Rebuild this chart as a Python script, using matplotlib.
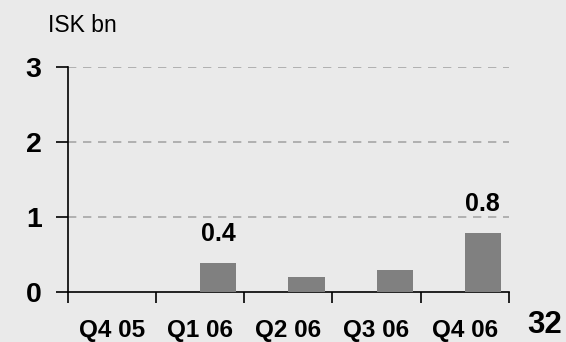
import numpy as np
import matplotlib.pyplot as plt

# Quarterly values, ISK bn
quarters = ["Q4 05", "Q1 06", "Q2 06", "Q3 06", "Q4 06"]
values = [0.0, 0.39, 0.2, 0.29, 0.79]
bar_labels = ["", "0.4", "", "", "0.8"]

bg = "#EAEAEA"
font = ["Liberation Sans", "DejaVu Sans"]

fig = plt.figure(figsize=(5.66, 3.42), dpi=100, facecolor=bg)
ax = fig.add_axes([0.120, 0.146, 0.779, 0.658], facecolor=bg)

x = np.arange(len(quarters))
bars = ax.bar(x, values, width=0.41, align="edge", color="#808080", zorder=3)

for rect, lab in zip(bars, bar_labels):
    if lab:
        ax.text(rect.get_x() + rect.get_width() / 2, rect.get_height() + 0.22, lab,
                ha="center", va="bottom", fontsize=18, fontweight="bold", family=font)

ax.set_xlim(-0.5, len(quarters) - 0.5)
ax.set_ylim(0, 3)

# category labels at centres, tick marks at category boundaries
ax.set_xticks(x)
ax.set_xticklabels(quarters, fontsize=17.5, fontweight="bold", family=font)
ax.tick_params(axis="x", which="major", length=0, pad=19.5)
ax.set_xticks(np.arange(len(quarters) + 1) - 0.5, minor=True)
ax.tick_params(axis="x", which="minor", length=8, width=1.2, direction="out")

ax.set_yticks([0, 1, 2, 3])
ax.set_yticklabels(["0", "1", "2", "3"], fontsize=20.5, fontweight="bold", family=font)
ax.tick_params(axis="y", length=9, width=1.2, pad=10, direction="out")

for yv in [1, 2, 3]:
    ax.axhline(yv, color="#A6A6A6", lw=1.2, ls=(0, (5, 4)), zorder=1)

for s in ["top", "right"]:
    ax.spines[s].set_visible(False)
ax.spines["left"].set_linewidth(1.2)
ax.spines["bottom"].set_linewidth(1.2)

fig.text(48 / 566, 1 - 25 / 342, "ISK bn", fontsize=16.5, va="center", ha="left", family=font)
fig.text(527 / 566, 2 / 342, "32", fontsize=22.5, fontweight="bold", va="bottom", ha="left", family=font)

fig.savefig("out.png", dpi=100, facecolor=bg)
